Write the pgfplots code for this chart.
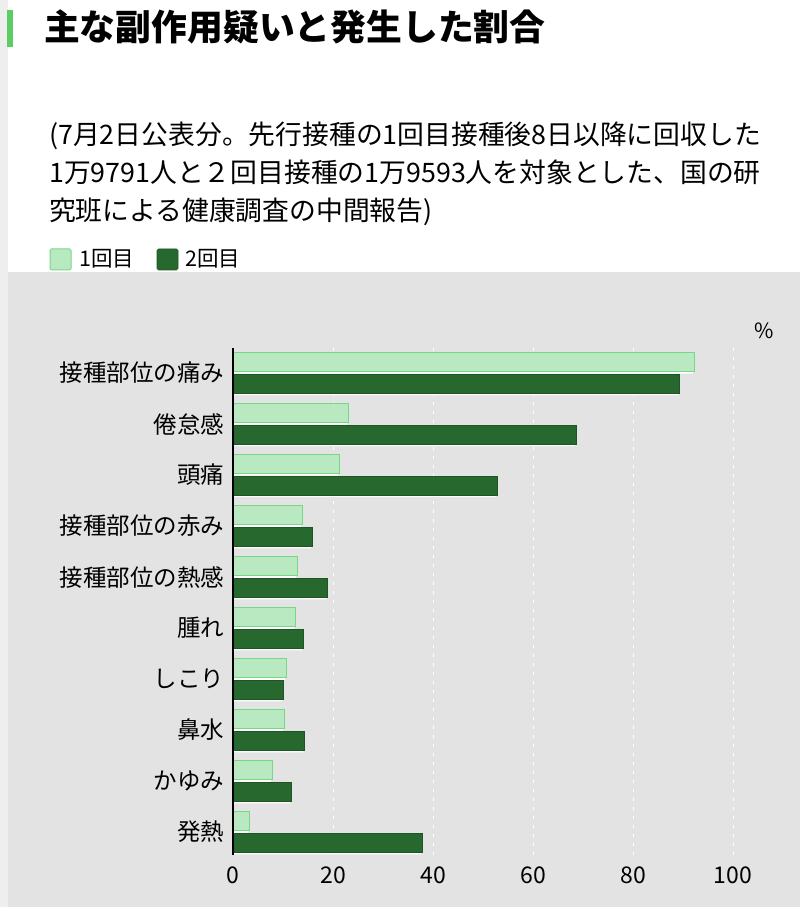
\documentclass[border=0pt]{standalone}
\usepackage{fontspec}
\setmainfont{Noto Sans CJK JP}
\usepackage{pgfplots}
\pgfplotsset{compat=1.18}
\definecolor{lightbar}{RGB}{185,233,192}
\definecolor{lightedge}{RGB}{120,214,135}
\definecolor{darkbar}{RGB}{38,104,45}
\definecolor{darkedge}{RGB}{30,85,36}
\definecolor{panel}{RGB}{227,227,227}
\definecolor{strip}{RGB}{238,238,238}
\definecolor{accent}{RGB}{92,204,100}
\begin{document}
\begin{tikzpicture}[x=1bp,y=1bp]
\fill[white] (0,0) rectangle (800,907);
\fill[strip] (0,0) rectangle (8,907);
\fill[panel] (8,0) rectangle (800,635);
\fill[accent] (7,860) rectangle (13,897);
\node[anchor=base west, inner sep=0pt, font=\fontsize{35.8bp}{40bp}\selectfont\bfseries] at (44,866) {主な副作用疑いと発生した割合};
\node[anchor=base west, inner sep=0pt, font=\fontsize{26.8bp}{30bp}\selectfont] at (49,762) {(7月2日公表分。先行接種の1回目接種後8日以降に回収した};
\node[anchor=base west, inner sep=0pt, font=\fontsize{26.8bp}{30bp}\selectfont] at (49,724) {1万9791人と２回目接種の1万9593人を対象とした、国の研};
\node[anchor=base west, inner sep=0pt, font=\fontsize{26.8bp}{30bp}\selectfont] at (49,686) {究班による健康調査の中間報告)};
\filldraw[fill=lightbar, draw=lightedge, line width=1bp, rounded corners=1.5bp] (50,637) rectangle (71,658);
\node[anchor=base west, inner sep=0pt, font=\fontsize{21.5bp}{24bp}\selectfont] at (79,640) {1回目};
\filldraw[fill=darkbar, draw=darkedge, line width=0.6bp, rounded corners=1.5bp] (157,637) rectangle (178,658);
\node[anchor=base west, inner sep=0pt, font=\fontsize{21.5bp}{24bp}\selectfont] at (185,640) {2回目};
\node[anchor=center, inner sep=0pt, font=\fontsize{21bp}{24bp}\selectfont] at (764,576) {\%};
\begin{axis}[
  at={(233bp,52bp)}, anchor=south west, scale only axis,
  width=500bp, height=507bp,
  xbar, bar width=19bp,
  xmin=0, xmax=100, ymin=-0.49, ymax=9.45, y dir=reverse,
  axis x line*=bottom, axis y line*=left,
  x axis line style={draw=none}, y axis line style={draw=none},
  xtick={0,20,...,100}, ytick={0,...,9},
  yticklabels={接種部位の痛み,倦怠感,頭痛,接種部位の赤み,接種部位の熱感,腫れ,しこり,鼻水,かゆみ,発熱},
  major tick length=0pt,
  xmajorgrids, grid style={white, line width=1bp, dash pattern=on 3bp off 6bp},
  xticklabel style={font=\fontsize{23bp}{24bp}\selectfont, yshift=-8bp},
  yticklabel style={font=\fontsize{23.5bp}{26bp}\selectfont, xshift=-5bp},
  /pgf/number format/assume math mode=true,
  clip=false,
]
\addplot[fill=lightbar, draw=lightedge, line width=1bp, bar shift=10.75bp,
  preaction={fill=white, draw=none, transform canvas={shift={(-1bp,-2bp)}}}]
  coordinates {(92.2,0) (23.0,1) (21.2,2) (13.8,3) (12.8,4) (12.4,5) (10.6,6) (10.2,7) (7.8,8) (3.2,9)};
\addplot[fill=darkbar, draw=darkedge, line width=0.6bp, bar shift=-10.75bp,
  preaction={fill=white, draw=none, transform canvas={shift={(-1bp,-2bp)}}}]
  coordinates {(89.2,0) (68.6,1) (52.8,2) (15.8,3) (18.8,4) (14.0,5) (10.0,6) (14.2,7) (11.6,8) (37.8,9)};
\draw[black, line width=1.5bp] (rel axis cs:0,0) -- (rel axis cs:0,1);
\end{axis}
\end{tikzpicture}
\end{document}
